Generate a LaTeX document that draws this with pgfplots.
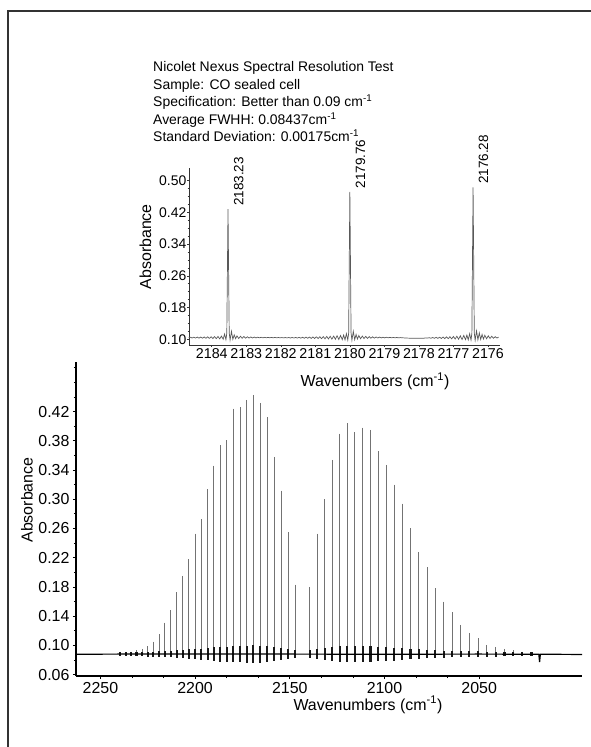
\documentclass[border=0pt]{standalone}
\usepackage{pgfplots}
\pgfplotsset{compat=1.18}
\usepackage{pgfplotstable}
\usepackage{fontspec}
\setmainfont{Liberation Sans}

% CO fundamental band: line position (cm^-1), peak absorbance, ringing amplitude
\pgfplotstableread{
nu h f
2239.55 0.089 0.0030
2236.72 0.090 0.0030
2233.86 0.091 0.0030
2230.96 0.093 0.0031
2228.02 0.095 0.0032
2225.05 0.099 0.0033
2222.05 0.105 0.0034
2219.01 0.115 0.0037
2215.93 0.131 0.0041
2212.82 0.148 0.0045
2209.68 0.173 0.0051
2206.50 0.195 0.0057
2203.28 0.218 0.0063
2200.03 0.253 0.0071
2196.75 0.273 0.0076
2193.43 0.314 0.0087
2190.07 0.346 0.0095
2186.68 0.374 0.0102
2183.26 0.381 0.0103
2179.80 0.424 0.0114
2176.30 0.426 0.0115
2172.77 0.436 0.0117
2169.21 0.443 0.0119
2165.61 0.432 0.0116
2161.97 0.412 0.0111
2158.30 0.358 0.0098
2154.60 0.312 0.0086
2150.86 0.255 0.0072
2147.08 0.183 0.0054
2139.43 0.180 0.0053
2135.55 0.253 0.0071
2131.63 0.300 0.0083
2127.68 0.354 0.0097
2123.70 0.390 0.0106
2119.68 0.404 0.0109
2115.62 0.392 0.0106
2111.53 0.398 0.0108
2107.41 0.395 0.0107
2103.25 0.366 0.0100
2099.05 0.347 0.0095
2094.82 0.320 0.0088
2090.56 0.294 0.0082
2086.26 0.260 0.0073
2081.92 0.228 0.0065
2077.55 0.207 0.0060
2073.15 0.178 0.0053
2068.71 0.160 0.0048
2064.23 0.145 0.0044
2059.72 0.128 0.0040
2055.18 0.117 0.0037
2050.60 0.110 0.0036
2045.98 0.1005 0.0033
2041.33 0.098 0.0033
2036.65 0.095 0.0031
2031.93 0.093 0.0030
2027.17 0.091 0.0030
2022.38 0.089 0.0030
}\maindata

\pgfplotstableread{
nu a
2262.9 0.0878
2240.0 0.0880
2200.0 0.0880
2150.0 0.0880
2100.0 0.0878
2050.0 0.0880
2018.5 0.0878
2018.1 0.0770
2017.7 0.0878
1995.7 0.0875
}\basedata

\pgfplotstableread{
nu a
2184.67 0.1040
2184.62 0.1050
2184.57 0.1032
2184.52 0.1052
2184.47 0.1030
2184.42 0.1054
2184.37 0.1028
2184.32 0.1056
2184.27 0.1026
2184.22 0.1058
2184.17 0.1024
2184.12 0.1060
2184.07 0.1022
2184.02 0.1063
2183.97 0.1019
2183.92 0.1066
2183.87 0.1015
2183.82 0.1070
2183.77 0.1010
2183.72 0.1078
2183.67 0.1002
2183.63 0.1130
2183.59 0.0990
2183.565 0.1150
2183.53 0.4280
2183.495 0.1160
2183.47 0.0980
2183.43 0.1200
2183.39 0.1000
2183.35 0.1110
2183.31 0.1015
2183.27 0.1085
2183.22 0.1020
2183.17 0.1075
2183.12 0.1025
2183.07 0.1068
2183.02 0.1028
2182.97 0.1062
2182.92 0.1030
2182.87 0.1058
2182.82 0.1032
2182.77 0.1055
2182.72 0.1034
2182.67 0.1052
2182.62 0.1035
2182.57 0.1050
2182.52 0.1036
2182.47 0.1048
2182.42 0.1037
2182.37 0.1046
2182.32 0.1038
2182.27 0.1045
2182.22 0.1037
2182.17 0.1045
2182.12 0.1036
2182.07 0.1044
2182.02 0.1035
2181.97 0.1043
2181.92 0.1034
2181.87 0.1043
2181.82 0.1033
2181.77 0.1044
2181.72 0.1032
2181.67 0.1045
2181.62 0.1031
2181.57 0.1046
2181.52 0.1030
2181.47 0.1048
2181.42 0.1028
2181.37 0.1050
2181.32 0.1026
2181.27 0.1053
2181.22 0.1024
2181.17 0.1056
2181.12 0.1022
2181.07 0.1058
2181.02 0.1020
2180.97 0.1060
2180.92 0.1018
2180.87 0.1063
2180.82 0.1015
2180.77 0.1066
2180.72 0.1012
2180.67 0.1070
2180.62 0.1008
2180.57 0.1075
2180.52 0.1004
2180.47 0.1080
2180.42 0.1000
2180.37 0.1088
2180.32 0.0995
2180.27 0.1095
2180.22 0.0990
2180.18 0.1105
2180.14 0.0985
2180.10 0.1140
2180.06 0.0980
2180.035 0.1150
2180.00 0.4720
2179.965 0.1160
2179.94 0.0975
2179.90 0.1200
2179.86 0.0990
2179.82 0.1120
2179.78 0.1005
2179.74 0.1095
2179.69 0.1012
2179.64 0.1080
2179.59 0.1018
2179.54 0.1072
2179.49 0.1022
2179.44 0.1066
2179.39 0.1026
2179.34 0.1062
2179.29 0.1029
2179.24 0.1058
2179.19 0.1031
2179.14 0.1055
2179.09 0.1033
2179.04 0.1052
2178.99 0.1034
2178.94 0.1050
2178.89 0.1035
2178.84 0.1048
2178.79 0.1036
2178.74 0.1046
2178.69 0.1036
2178.64 0.1044
2178.59 0.1035
2178.54 0.1042
2178.45 0.1035
2178.35 0.1030
2178.25 0.1026
2178.15 0.1024
2178.05 0.1023
2177.95 0.1024
2177.85 0.1027
2177.80 0.1035
2177.75 0.1028
2177.70 0.1040
2177.65 0.1026
2177.60 0.1044
2177.55 0.1024
2177.50 0.1048
2177.45 0.1022
2177.40 0.1052
2177.35 0.1020
2177.30 0.1056
2177.25 0.1017
2177.20 0.1060
2177.15 0.1014
2177.10 0.1064
2177.05 0.1010
2177.00 0.1070
2176.95 0.1005
2176.90 0.1076
2176.85 0.1000
2176.80 0.1085
2176.75 0.0995
2176.70 0.1095
2176.65 0.0990
2176.61 0.1105
2176.57 0.0985
2176.53 0.1140
2176.49 0.0980
2176.465 0.1150
2176.43 0.4830
2176.395 0.1160
2176.37 0.0975
2176.33 0.1210
2176.29 0.0985
2176.25 0.1160
2176.21 0.0995
2176.17 0.1120
2176.13 0.1005
2176.09 0.1100
2176.04 0.1012
2175.99 0.1085
2175.94 0.1020
2175.89 0.1075
2175.84 0.1025
2175.79 0.1065
2175.74 0.1030
2175.69 0.1055
}\insetdata

\begin{document}
\begin{tikzpicture}
\useasboundingbox (0,0) rectangle (591bp,747bp);
\draw[line width=1.3bp, black!80] (8bp,0bp) -- (8bp,736bp) -- (591bp,736bp);

% header text
\begin{scope}[every node/.style={anchor=base west, inner sep=0pt, font=\fontsize{14}{17}\selectfont}]
\node at (153bp,675bp) {Nicolet Nexus Spectral Resolution Test};
\node at (153bp,657.5bp) {Sample: CO sealed cell};
\node at (153bp,640bp) {Specification: Better than 0.09 cm\textsuperscript{-1}};
\node at (153bp,622.5bp) {Average FWHH: 0.08437cm\textsuperscript{-1}};
\node at (153bp,605bp) {Standard Deviation: 0.00175cm\textsuperscript{-1}};
\end{scope}

% main spectrum
\begin{axis}[
  at={(76bp,71bp)}, anchor=south west,
  scale only axis, width=506bp, height=314bp,
  axis lines=left, axis line style={-, line width=1.2bp, black},
  xmin=-2262.9, xmax=-1995.7, ymin=0.058, ymax=0.488,
  xtick={-2250,-2200,-2150,-2100,-2050},
  xticklabels={2250,2200,2150,2100,2050},
  minor x tick num=2,
  ytick={0.06,0.10,0.14,0.18,0.22,0.26,0.30,0.34,0.38,0.42},
  yticklabels={0.06,0.10,0.14,0.18,0.22,0.26,0.30,0.34,0.38,0.42},
  minor ytick={0.08,0.12,0.16,0.20,0.24,0.28,0.32,0.36,0.40,0.44,0.46,0.48},
  tick align=outside, major tick length=3bp, minor tick length=2bp,
  tick style={line width=0.8bp, black},
  /pgf/number format/assume math mode=true,
  tick label style={font=\fontsize{16}{19}\selectfont},
  label style={font=\fontsize{16}{19}\selectfont},
  xlabel={Wavenumbers (cm\textsuperscript{-1})},
  ylabel={Absorbance},
  xlabel style={at={(axis description cs:0.577,-0.092)}, anchor=center},
  ylabel style={at={(axis description cs:-0.0968,0.5605)}, anchor=center},
]
\addplot[draw=none, mark=none, forget plot,
  error bars/.cd, y dir=minus, y explicit, error mark=none,
  error bar style={draw=black!55, line width=0.9bp, solid}]
  table[x expr=-\thisrow{nu}, y=h, y error expr=\thisrow{h}-0.088] {\maindata};
\addplot[draw=none, mark=none, forget plot,
  error bars/.cd, y dir=both, y explicit, error mark=none,
  error bar style={draw=black!90, line width=2.1bp, solid}]
  table[x expr=-\thisrow{nu}, y expr=0.088, y error=f] {\maindata};
\addplot[black, line width=1.2bp, mark=none] table[x expr=-\thisrow{nu}, y=a] {\basedata};
\end{axis}

% inset
\begin{axis}[
  at={(189bp,402bp)}, anchor=south west,
  scale only axis, width=311bp, height=177bp,
  axis lines=left, axis line style={-, line width=0.9bp, black!80},
  xmin=-2184.66, xmax=-2175.65, ymin=0.0855, ymax=0.532,
  xtick={-2184,-2183,-2182,-2181,-2180,-2179,-2178,-2177,-2176},
  xticklabels={2184,2183,2182,2181,2180,2179,2178,2177,2176},
  ytick={0.10,0.18,0.26,0.34,0.42,0.50},
  yticklabels={0.10,0.18,0.26,0.34,0.42,0.50},
  minor y tick num=3,
  tick align=outside, major tick length=2bp, minor tick length=1.5bp,
  tick style={line width=0.6bp, black!80},
  /pgf/number format/assume math mode=true,
  xticklabel style={font=\fontsize{14.3}{17}\selectfont, inner ysep=1bp},
  yticklabel style={font=\fontsize{14}{17}\selectfont, inner xsep=0.5bp},
  label style={font=\fontsize{16}{19}\selectfont},
  xlabel={Wavenumbers (cm\textsuperscript{-1})},
  ylabel={Absorbance},
  xlabel style={at={(axis description cs:0.598,-0.206)}, anchor=center},
  ylabel style={at={(axis description cs:-0.14,0.555)}, anchor=center},
  clip=false,
]
\addplot[black!65, line width=0.7bp, mark=none] table[x expr=-\thisrow{nu}, y=a] {\insetdata};
\node[rotate=90, anchor=west, font=\fontsize{13.5}{16}\selectfont] at (axis cs:-2183.22,0.428) {2183.23};
\node[rotate=90, anchor=west, font=\fontsize{13.5}{16}\selectfont] at (axis cs:-2179.69,0.472) {2179.76};
\node[rotate=90, anchor=west, font=\fontsize{13.5}{16}\selectfont] at (axis cs:-2176.13,0.483) {2176.28};
\end{axis}
\end{tikzpicture}
\end{document}
